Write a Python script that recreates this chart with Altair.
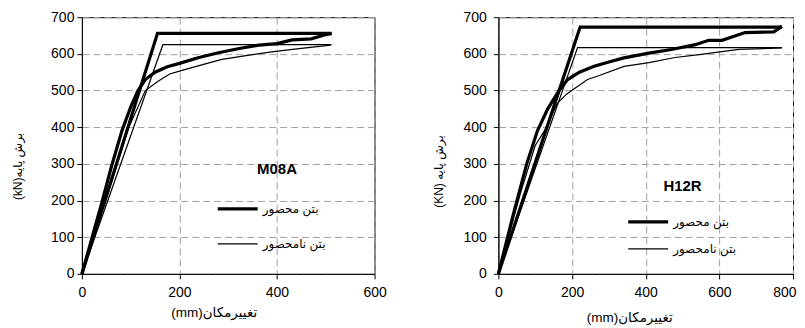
import altair as alt
import pandas as pd

SERIES = ["بتن محصور", "بتن نامحصور"]

# ---- M08A (left panel) ----
m08_conf_bl_x = [0, 155, 512]
m08_conf_bl_y = [0, 656, 656]
m08_unconf_bl_x = [0, 166, 512]
m08_unconf_bl_y = [0, 625, 625]
m08_conf_x = [0, 20, 40, 60, 82, 100, 115, 130, 150, 175, 200, 240, 280, 320, 363, 400, 431, 470, 499, 512]
m08_conf_y = [0, 95, 190, 290, 390, 455, 500, 530, 550, 565, 574, 590, 603, 614, 624, 628, 638, 641, 652, 655]
m08_unconf_x = [0, 50, 96, 130, 157, 180, 200, 240, 287, 340, 397, 450, 510]
m08_unconf_y = [0, 205, 399, 500, 526, 545, 553, 568, 585, 596, 607, 615, 624]

# ---- H12R (right panel) ----
h12_conf_bl_x = [0, 222, 770]
h12_conf_bl_y = [0, 673, 673]
h12_unconf_bl_x = [0, 215, 770]
h12_unconf_bl_y = [0, 617, 617]
h12_conf_x = [0, 40, 77, 106, 134, 165, 188, 220, 260, 300, 341, 409, 470, 535, 571, 607, 640, 670, 748, 770]
h12_conf_y = [0, 160, 300, 390, 450, 500, 530, 550, 566, 578, 589, 602, 612, 625, 637, 637, 648, 658, 660, 675]
h12_unconf_x = [0, 60, 100, 125, 160, 185, 206, 242, 274, 341, 409, 480, 545, 653, 770]
h12_unconf_y = [0, 220, 350, 390, 465, 490, 505, 530, 541, 566, 576, 590, 598, 612, 616]

m08_xticks = [0, 200, 400, 600]
h12_xticks = [0, 200, 400, 600, 800]
yticks = [0, 100, 200, 300, 400, 500, 600, 700]

FONT = "Liberation Sans, DejaVu Sans"


def frame(curves):
    rows = []
    for cid, (xs, ys, s) in curves.items():
        for i, (a, b) in enumerate(zip(xs, ys)):
            rows.append({"x": a, "y": b, "series": s, "curve": cid, "o": i})
    return pd.DataFrame(rows)


def panel(curves, xmax, xticks, ytitle, label, lx, ly, legx, legy, rowpad,
          ytitle_pad, ytitle_y, label_pad, xtitle_x, xtitle_y):
    df = frame(curves)
    xscale = alt.Scale(domain=[0, xmax], nice=False)
    yscale = alt.Scale(domain=[0, 700], nice=False)
    last = xticks[-1]
    xaxis = alt.Axis(values=xticks, title="(mm)تغییرمکان", titleX=xtitle_x,
                     titleY=xtitle_y, titleBaseline="middle", grid=True,
                     labelFlush=False,
                     labelAlign={"expr": f"datum.value >= {last} && {last} > 600 ? 'right' : 'center'"},
                     labelOffset={"expr": f"datum.value >= {last} && {last} > 600 ? 3 : 0"})
    yaxis = alt.Axis(values=yticks, tickCount=8, title=ytitle,
                     titlePadding=ytitle_pad, titleY=ytitle_y,
                     labelPadding=label_pad, grid=True, labelOverlap=False,
                     labelFlush=False)
    lines = alt.Chart(df).mark_line(color="black", strokeCap="butt").encode(
        x=alt.X("x:Q", scale=xscale, axis=xaxis),
        y=alt.Y("y:Q", scale=yscale, axis=yaxis),
        strokeWidth=alt.StrokeWidth(
            "series:N", scale=alt.Scale(domain=SERIES, range=[3.2, 1.2]),
            legend=alt.Legend(orient="none", legendX=legx, legendY=legy, title=None,
                              symbolType="stroke", symbolSize=1600, clipHeight=16,
                              rowPadding=rowpad, padding=0, labelFontSize=12,
                              labelFont=FONT, labelOffset=3,
                              symbolStrokeColor="black", labelColor="black")),
        detail="curve:N",
        order="o:Q",
    )
    tdf = pd.DataFrame({"x": [lx], "y": [ly], "t": [label]})
    txt = alt.Chart(tdf).mark_text(fontWeight="bold", fontSize=15, font=FONT,
                                   color="black").encode(
        x=alt.X("x:Q", scale=xscale, axis=xaxis),
        y=alt.Y("y:Q", scale=yscale, axis=yaxis),
        text="t:N")
    return alt.layer(lines, txt)


left = panel(
    {"cbl": (m08_conf_bl_x, m08_conf_bl_y, SERIES[0]),
     "ubl": (m08_unconf_bl_x, m08_unconf_bl_y, SERIES[1]),
     "cpo": (m08_conf_x, m08_conf_y, SERIES[0]),
     "upo": (m08_unconf_x, m08_unconf_y, SERIES[1])},
    600, m08_xticks, "(kN)برش پایه", "M08A", 400, 286,
    134, 184, 19, 26, 149, 3, 132, 39,
).properties(width=293, height=257)

right = panel(
    {"cbl": (h12_conf_bl_x, h12_conf_bl_y, SERIES[0]),
     "ubl": (h12_unconf_bl_x, h12_unconf_bl_y, SERIES[1]),
     "cpo": (h12_conf_x, h12_conf_y, SERIES[0]),
     "upo": (h12_unconf_x, h12_unconf_y, SERIES[1])},
    800, h12_xticks, "(KN) برش پایه", "H12R", 500, 240,
    128, 197, 11, 18, 154, 7, 131, 44,
).properties(width=295, height=257)

chart = alt.hconcat(left, right, spacing=44).resolve_scale(
    strokeWidth="independent", x="independent", y="independent"
).resolve_legend(strokeWidth="independent").properties(
    padding={"left": 3, "top": 1, "right": 0, "bottom": 0}
).configure_view(
    stroke="black", strokeWidth=1
).configure_axis(
    domainColor="black", tickColor="black", tickSize=5, labelColor="black",
    labelFont="Liberation Sans", labelFontSize=14, titleFont=FONT, titleFontSize=12,
    titleFontWeight="normal", titleColor="black", gridColor="#a0a0a0",
    gridDash=[7, 4], gridWidth=1,
).configure_axisX(labelPadding=7, titleFontSize=13.5)

chart.save("out.html", embed_options={"renderer": "svg", "actions": False})
